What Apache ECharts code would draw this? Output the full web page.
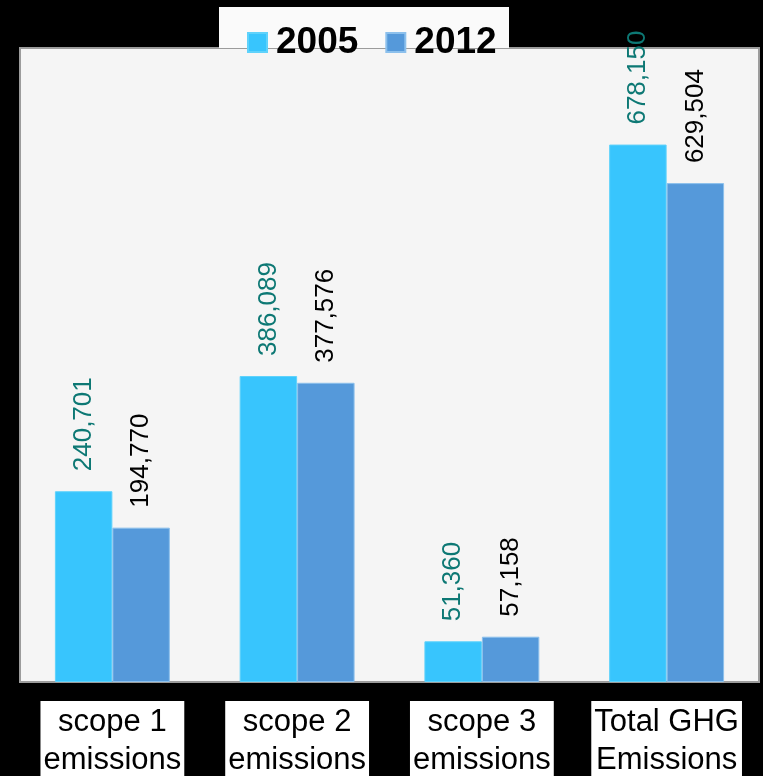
<!DOCTYPE html>
<html>
<head>
<meta charset="utf-8">
<script src="https://cdn.jsdelivr.net/npm/echarts@6/dist/echarts.min.js"></script>
<style>
html,body{margin:0;padding:0;background:#000;}
#c{width:763px;height:776px;}
</style>
</head>
<body>
<div id="c"></div>
<script>
const categories = ['scope 1\nemissions', 'scope 2\nemissions', 'scope 3\nemissions', 'Total GHG\nEmissions'];
const seriesNames = ['2005', '2012'];
const values2005 = [240701, 386089, 51360, 678150];
const values2012 = [194770, 377576, 57158, 629504];

const fmt = v => v.toLocaleString('en-US');
const chart = echarts.init(document.getElementById('c'));
const labelBase = {
  show: true,
  position: 'top',
  distance: 20,
  rotate: 90,
  align: 'left',
  verticalAlign: 'middle',
  fontFamily: 'Liberation Sans, Arial, sans-serif',
  fontSize: 26,
  formatter: p => fmt(p.value)
};
chart.setOption({
  backgroundColor: '#000',
  animation: false,
  graphic: [{
    type: 'rect', z: 3,
    shape: {x: 219, y: 7, width: 290, height: 41},
    style: {fill: '#fafafa'}
  }],
  legend: {
    z: 6,
    left: 247, top: 24,
    padding: 0,
    itemWidth: 19, itemHeight: 19, itemGap: 27,
    icon: 'rect',
    selectedMode: false,
    data: seriesNames,
    textStyle: {
      fontFamily: 'Liberation Sans, Arial, sans-serif',
      fontSize: 37, fontWeight: 'bold', color: '#000',
      lineHeight: 36, padding: [0, 0, 0, 4]
    }
  },
  grid: {
    left: 20, right: 4, top: 48, bottom: 94,
    outerBoundsMode: 'none',
    containLabel: false,
    show: true, backgroundColor: '#f5f5f5',
    borderColor: '#9c9c9c', borderWidth: 2
  },
  xAxis: {
    type: 'category',
    data: categories,
    axisLine: {show: true, lineStyle: {color: '#9c9c9c', width: 2}},
    axisTick: {show: false},
    axisLabel: {
      interval: 0,
      margin: 19,
      color: '#000',
      fontFamily: 'Liberation Sans, Arial, sans-serif',
      fontSize: 31,
      lineHeight: 38,
      backgroundColor: '#fff',
      padding: [2, 3, 4, 3]
    }
  },
  yAxis: {
    type: 'value', min: 0, max: 800000,
    show: false, splitLine: {show: false}
  },
  series: [{
    name: seriesNames[0], type: 'bar', data: values2005,
    barWidth: '31.1%', barGap: '0%',
    itemStyle: {color: '#38c5fd', borderColor: '#5fd2fb', borderWidth: 1},
    label: Object.assign({}, labelBase, {color: '#0d7874'})
  }, {
    name: seriesNames[1], type: 'bar', data: values2012,
    barWidth: '31.1%', barGap: '0%',
    itemStyle: {color: '#5599da', borderColor: '#8cc0ec', borderWidth: 1},
    label: Object.assign({}, labelBase, {color: '#000'})
  }]
});
</script>
</body>
</html>
